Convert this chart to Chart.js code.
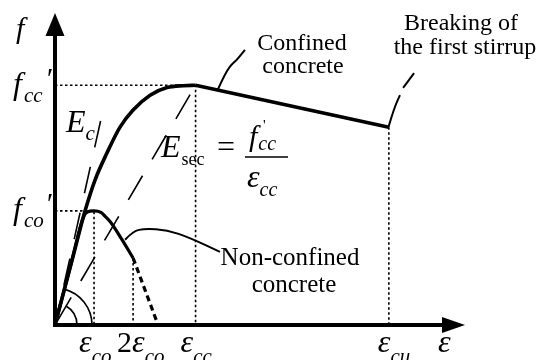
<!DOCTYPE html>
<html>
<head>
<meta charset="utf-8">
<script src="https://cdn.jsdelivr.net/npm/chart.js"></script>
<style>
  html, body { margin: 0; padding: 0; background: #fff; }
  canvas { display: block; }
</style>
</head>
<body>
<canvas id="c" width="545" height="360"></canvas>
<script>
// strain in per mille, stress in MPa
const confinedRiseStrain = [0, 1.0, 1.54, 2.05, 2.66, 3.33, 4.0, 4.87, 5.74, 6.56, 7.2];
const confinedRiseStress = [0, 19.5, 30.0, 38.1, 45.2, 52.0, 56.5, 60.4, 62.4, 62.9, 63.0];
const confinedSoftStrain = [7.2, 17.1];
const confinedSoftStress = [63.0, 52.0];

const plainStrain = [0, 0.8, 1.45, 1.65, 2.0, 2.35, 2.56, 2.85, 3.4, 4.0];
const plainStress = [0, 15.6, 28.3, 29.7, 30.0, 29.6, 28.6, 27.0, 22.7, 17.6];
const spallStrain = [4.0, 5.28];
const spallStress = [17.6, 0];

// initial modulus and secant modulus lines
const tangentStrain = [0, 2.46];
const tangentStress = [0, 56.5];
const secantStrain = [0, 7.2];
const secantStress = [0, 63.0];

// key points: eps_co, 2 eps_co, eps_cc, eps_cu
const keyStrain = [2.0, 4.0, 7.2, 17.1];
const keyStress = [30.0, 17.6, 63.0, 52.0];

const xy = (xs, ys) => xs.map((x, i) => ({ x: x, y: ys[i] }));

const dotted = (pts) => ({
  data: pts, borderColor: '#000', borderWidth: 1.6, borderDash: [2.5, 2.5],
  pointRadius: 0, tension: 0, fill: false
});

const SERIF = '"Liberation Serif", "Times New Roman", serif';

// draws a run of text pieces one after another
function run(ctx, x, y, pieces) {
  pieces.forEach(p => {
    ctx.font = p.f;
    const dx = p.dx || 0;
    ctx.fillText(p.t, x + dx, y + (p.dy || 0));
    x += dx + ctx.measureText(p.t).width;
  });
}

function path(ctx, pts) {
  ctx.beginPath();
  pts.forEach((p, i) => i ? ctx.lineTo(p[0], p[1]) : ctx.moveTo(p[0], p[1]));
  ctx.stroke();
}

const sketch = {
  id: 'sketch',
  afterDatasetsDraw(chart) {
    const ctx = chart.ctx;
    const xs = chart.scales.x, ys = chart.scales.y;
    const px = (x, y) => [xs.getPixelForValue(x), ys.getPixelForValue(y)];
    const [ox, oy] = px(0, 0);
    const top = chart.chartArea.top, right = chart.chartArea.right;

    ctx.save();
    ctx.strokeStyle = '#000';
    ctx.fillStyle = '#000';
    ctx.lineCap = 'butt';

    // axes with arrow heads
    ctx.lineWidth = 4;
    path(ctx, [[ox, oy + 2], [ox, top + 20]]);
    path(ctx, [[ox - 2, oy], [right - 20, oy]]);
    ctx.beginPath();
    ctx.moveTo(ox, top); ctx.lineTo(ox - 9.5, top + 23); ctx.lineTo(ox + 9.5, top + 23);
    ctx.closePath(); ctx.fill();
    ctx.beginPath();
    ctx.moveTo(right, oy); ctx.lineTo(right - 23, oy - 8); ctx.lineTo(right - 23, oy + 8);
    ctx.closePath(); ctx.fill();

    // angle marks at the origin
    ctx.lineWidth = 1.6;
    ctx.beginPath(); ctx.arc(ox, oy, 37, -76 * Math.PI / 180, 0); ctx.stroke();
    ctx.beginPath(); ctx.arc(ox, oy, 22, -60 * Math.PI / 180, 0); ctx.stroke();

    // leader lines
    ctx.lineWidth = 2;
    ctx.lineJoin = 'round';
    const lead = (pts) => {
      const p = pts.map(q => px(q[0], q[1]));
      ctx.beginPath();
      ctx.moveTo(p[0][0], p[0][1]);
      for (let i = 1; i < p.length - 1; i++) {
        const mx = (p[i][0] + p[i + 1][0]) / 2, my = (p[i][1] + p[i + 1][1]) / 2;
        ctx.quadraticCurveTo(p[i][0], p[i][1], mx, my);
      }
      ctx.lineTo(p[p.length - 1][0], p[p.length - 1][1]);
      ctx.stroke();
    };
    lead([[8.35, 62.0], [8.75, 66.5], [9.12, 68.9], [9.27, 69.4], [9.73, 72.3]]);
    lead([[17.08, 52.0], [17.37, 57.0], [17.67, 60.4]]);
    lead([[17.83, 62.3], [18.39, 66.2]]);
    lead([[3.59, 22.4], [4.0, 24.7], [4.6, 25.3], [5.74, 25.0], [6.92, 22.9], [8.45, 19.2]]);

    // phrases
    ctx.textBaseline = 'alphabetic';
    ctx.textAlign = 'center';
    ctx.font = '24px ' + SERIF;
    ctx.fillText('Confined', 302, 50);
    ctx.fillText('concrete', 303, 73);
    ctx.fillText('Breaking of', 461, 30);
    ctx.fillText('the first stirrup', 465, 54);
    ctx.font = '25px ' + SERIF;
    ctx.fillText('Non-confined', 290, 265);
    ctx.fillText('concrete', 294, 292);

    // math labels
    ctx.textAlign = 'left';
    const it = (s) => 'italic ' + s + 'px ' + SERIF;
    const rm = (s) => s + 'px ' + SERIF;
    run(ctx, 16, 38, [{ t: 'f', f: it(30) }]);
    run(ctx, 13, 94, [{ t: 'f', f: it(32) }, { t: 'cc', f: it(21), dy: 8, dx: 2 }]);
    run(ctx, 45, 88, [{ t: '\u2032', f: it(30) }]);
    run(ctx, 13, 219, [{ t: 'f', f: it(32) }, { t: 'co', f: it(21), dy: 8, dx: 2 }]);
    run(ctx, 45, 213, [{ t: '\u2032', f: it(30) }]);

    run(ctx, 66, 132, [{ t: 'E', f: it(32) }, { t: 'c', f: it(21), dy: 8 }]);

    run(ctx, 161, 157, [{ t: 'E', f: it(32) }, { t: 'sec', f: rm(18), dy: 8, dx: 1 }]);
    run(ctx, 217, 157, [{ t: '=', f: rm(32) }]);
    run(ctx, 249, 146, [{ t: 'f', f: it(30) }, { t: 'cc', f: it(20), dy: 4, dx: 1 }]);
    run(ctx, 263, 130, [{ t: '\'', f: rm(15) }]);
    ctx.lineWidth = 1.6;
    path(ctx, [[245, 157], [288, 157]]);
    run(ctx, 247, 187, [{ t: '\u03b5', f: it(32) }, { t: 'cc', f: it(20), dy: 9 }]);

    const epsLabel = (x, pre, sub) => {
      const pieces = [];
      if (pre) pieces.push({ t: pre, f: rm(30) });
      pieces.push({ t: '\u03b5', f: it(32) }, { t: sub, f: it(21), dy: 11 });
      run(ctx, x, 352, pieces);
    };
    epsLabel(xs.getPixelForValue(keyStrain[0]) - 15, '', 'co');
    epsLabel(xs.getPixelForValue(keyStrain[1]) - 16, '2', 'co');
    epsLabel(xs.getPixelForValue(keyStrain[2]) - 15, '', 'cc');
    epsLabel(xs.getPixelForValue(keyStrain[3]) - 11, '', 'cu');
    run(ctx, right - 27, 352, [{ t: '\u03b5', f: it(32) }]);

    ctx.restore();
  }
};

new Chart(document.getElementById('c'), {
  type: 'line',
  data: {
    datasets: [
      { data: xy(confinedRiseStrain, confinedRiseStress), borderColor: '#000', borderWidth: 3.6,
        cubicInterpolationMode: 'monotone', pointRadius: 0, fill: false },
      { data: xy(confinedSoftStrain, confinedSoftStress), borderColor: '#000', borderWidth: 3.6,
        tension: 0, pointRadius: 0, fill: false },
      { data: xy(plainStrain, plainStress), borderColor: '#000', borderWidth: 3.2,
        cubicInterpolationMode: 'monotone', pointRadius: 0, fill: false },
      { data: xy(spallStrain, spallStress), borderColor: '#000', borderWidth: 3.2,
        borderDash: [6, 4], tension: 0, pointRadius: 0, fill: false },
      { data: xy(tangentStrain, tangentStress), borderColor: '#000', borderWidth: 1.6,
        borderDash: [27, 20], borderDashOffset: 6, tension: 0, pointRadius: 0, fill: false },
      { data: xy(secantStrain, secantStress), borderColor: '#000', borderWidth: 1.6,
        borderDash: [28, 19], borderDashOffset: -4, tension: 0, pointRadius: 0, fill: false },
      // guide lines to the key points
      dotted([{ x: 0, y: keyStress[2] }, { x: keyStrain[2], y: keyStress[2] }, { x: keyStrain[2], y: 0 }]),
      dotted([{ x: 0, y: keyStress[0] }, { x: keyStrain[0], y: keyStress[0] }, { x: keyStrain[0], y: 0 }]),
      dotted([{ x: keyStrain[1], y: keyStress[1] }, { x: keyStrain[1], y: 0 }]),
      dotted([{ x: keyStrain[3], y: keyStress[3] }, { x: keyStrain[3], y: 0 }])
    ]
  },
  options: {
    responsive: false,
    animation: false,
    devicePixelRatio: 1,
    layout: { padding: { left: 55, right: 80, top: 13, bottom: 35 } },
    scales: {
      x: { type: 'linear', min: 0, max: 21, display: false },
      y: { type: 'linear', min: 0, max: 82, display: false }
    },
    plugins: { legend: { display: false }, tooltip: { enabled: false } }
  },
  plugins: [sketch]
});
</script>
</body>
</html>
